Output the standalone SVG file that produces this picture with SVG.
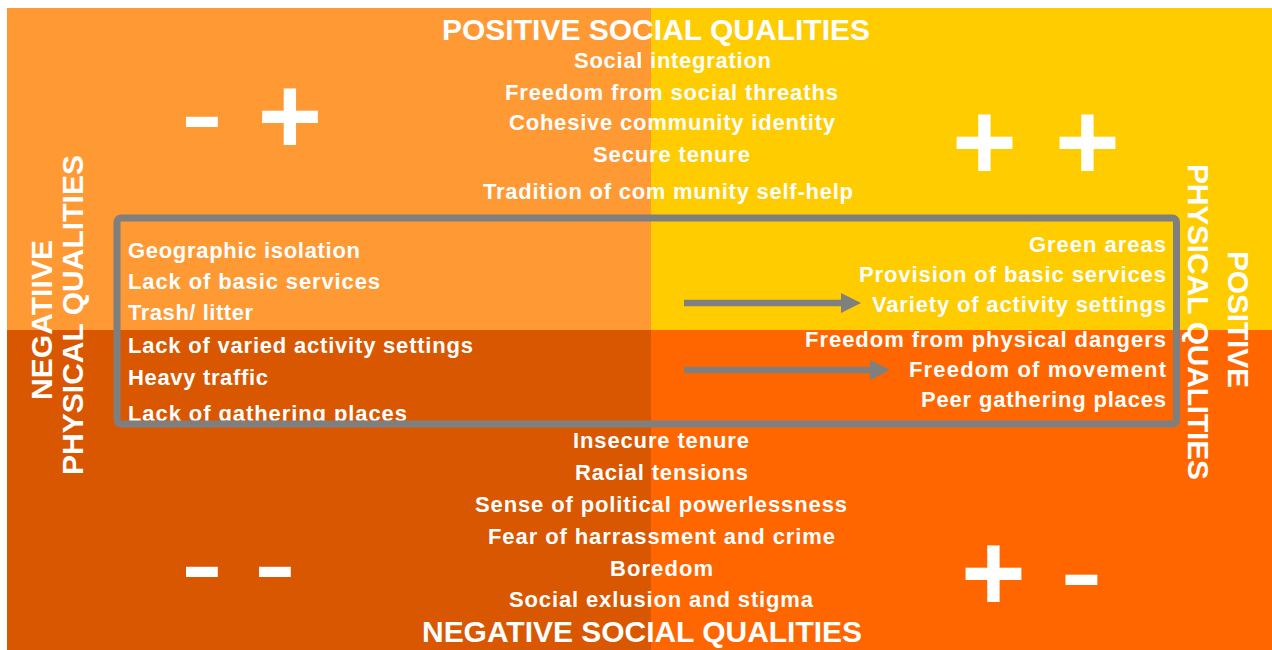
<svg xmlns="http://www.w3.org/2000/svg" width="1272" height="650" viewBox="0 0 1272 650">
<style>
  text { font-family: "Liberation Sans", Arial, sans-serif; fill: #ffffff; }
  .hd { font-weight: bold; font-size: 30px; }
  .it { font-weight: bold; font-size: 22px; }
  .plus { font-weight: bold; font-size: 111px; text-anchor: middle; }
  .minus { font-weight: normal; font-size: 130px; text-anchor: middle; }
  .arrow { stroke: #7f7f7f; stroke-width: 6.5; fill: none; }
</style>
<defs>
  <marker id="ah" markerUnits="userSpaceOnUse" markerWidth="20" markerHeight="20" refX="0" refY="10" orient="auto">
    <path d="M0,0 L20,10 L0,20 Z" fill="#7f7f7f"/>
  </marker>
  <clipPath id="boxclip">
    <rect x="0" y="0" width="1272" height="421"/>
  </clipPath>
</defs>
<rect x="0" y="0" width="1272" height="650" fill="#ffffff"/>
<g id="quadrants">
  <rect id="q-tl" x="7" y="8" width="644" height="322" fill="#ff9933"/>
  <rect id="q-tr" x="651" y="8" width="621" height="322" fill="#ffcc00"/>
  <rect id="q-bl" x="7" y="330" width="644" height="320" fill="#d95700"/>
  <rect id="q-br" x="651" y="330" width="621" height="320" fill="#ff6600"/>
</g>
<g id="signs">
  <text class="minus" x="202" y="156">-</text>
  <text class="plus" x="290" y="154">+</text>
  <text class="plus" x="984.5" y="180">+</text>
  <text class="plus" x="1087.5" y="180">+</text>
  <text class="minus" x="202" y="606">-</text>
  <text class="minus" x="275" y="606">-</text>
  <text class="plus" x="993.5" y="611">+</text>
  <text class="minus" x="1081.5" y="614">-</text>
</g>
<g id="positive-social">
  <text class="hd" x="442" y="40" textLength="428">POSITIVE SOCIAL QUALITIES</text>
  <text class="it" x="574" y="68" textLength="197">Social integration</text>
  <text class="it" x="505" y="100" textLength="333">Freedom from social threaths</text>
  <text class="it" x="509" y="130" textLength="326">Cohesive community identity</text>
  <text class="it" x="593" y="162" textLength="157">Secure tenure</text>
  <text class="it" x="483" y="199" textLength="370">Tradition of com munity self-help</text>
</g>
<g id="negative-physical-list">
  <text class="it" x="128" y="258" textLength="232">Geographic isolation</text>
  <text class="it" x="128" y="289" textLength="252">Lack of basic services</text>
  <text class="it" x="128" y="320" textLength="125">Trash/ litter</text>
  <text class="it" x="128" y="353" textLength="345">Lack of varied activity settings</text>
  <text class="it" x="128" y="385" textLength="140">Heavy traffic</text>
  <text class="it" x="128" y="421" textLength="279" clip-path="url(#boxclip)">Lack of gathering places</text>
</g>
<g id="positive-physical-list">
  <text class="it" x="1029" y="252" textLength="137">Green areas</text>
  <text class="it" x="859" y="282" textLength="307">Provision of basic services</text>
  <text class="it" x="872" y="312" textLength="294">Variety of activity settings</text>
  <text class="it" x="805" y="347" textLength="361">Freedom from physical dangers</text>
  <text class="it" x="909" y="377" textLength="257">Freedom of movement</text>
  <text class="it" x="921" y="407" textLength="245">Peer gathering places</text>
</g>
<g id="negative-social">
  <text class="it" x="573" y="448" textLength="176">Insecure tenure</text>
  <text class="it" x="575" y="480" textLength="173">Racial tensions</text>
  <text class="it" x="475" y="512" textLength="372">Sense of political powerlessness</text>
  <text class="it" x="488" y="544" textLength="347">Fear of harrassment and crime</text>
  <text class="it" x="610" y="576" textLength="103">Boredom</text>
  <text class="it" x="509" y="607" textLength="304">Social exlusion and stigma</text>
  <text class="hd" x="422" y="642" textLength="440">NEGATIVE SOCIAL QUALITIES</text>
</g>
<g id="axis-labels">
  <text class="hd" transform="translate(52,400) rotate(-90)" x="0" y="0" textLength="160">NEGATIIVE</text>
  <text class="hd" transform="translate(83,475) rotate(-90)" x="0" y="0" textLength="320">PHYSICAL QUALITIES</text>
  <text class="hd" transform="translate(1228,251) rotate(90)" x="0" y="0" textLength="137">POSITIVE</text>
  <text class="hd" transform="translate(1188,164) rotate(90)" x="0" y="0" textLength="316">PHYSICAL QUALITIES</text>
</g>
<g id="frame">
  <rect x="117" y="218" width="1059.5" height="206" rx="4" fill="none" stroke="#7f7f7f" stroke-width="7"/>
</g>
<g id="connectors">
  <line class="arrow" x1="684" y1="303" x2="841" y2="303" marker-end="url(#ah)"/>
  <line class="arrow" x1="684" y1="370" x2="870" y2="370" marker-end="url(#ah)"/>
</g>
</svg>
